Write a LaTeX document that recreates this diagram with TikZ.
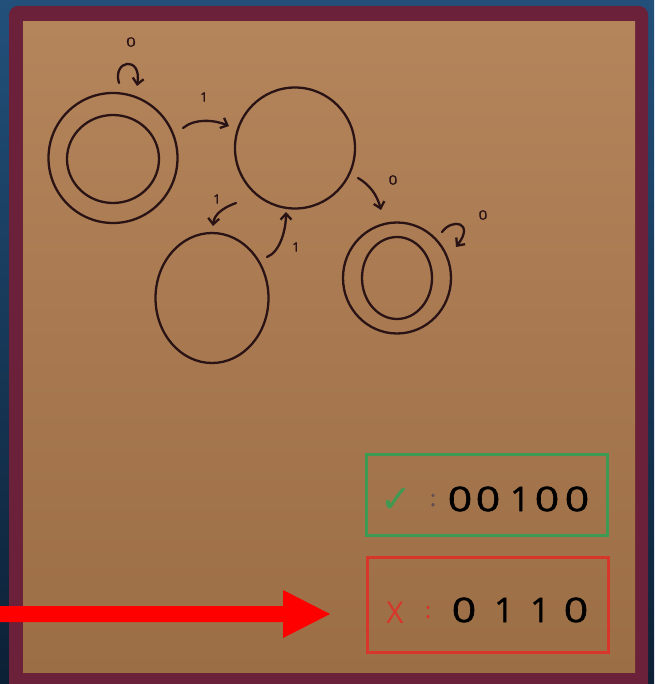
\documentclass[tikz,border=0pt]{standalone}
\usepackage{fontspec}
\setmainfont{Open Sans}
\newfontfamily\symfont{DejaVu Sans}
\newfontfamily\digitfont[FakeBold=1.3]{Open Sans}
\usetikzlibrary{shapes.geometric,arrows.meta}
\definecolor{bgtop}{HTML}{22507A}
\definecolor{bgbot}{HTML}{0C2035}
\definecolor{frame}{HTML}{6A2139}
\definecolor{tantop}{HTML}{B4845B}
\definecolor{tanbot}{HTML}{9C6E45}
\definecolor{ink}{HTML}{2A1315}
\definecolor{okgreen}{HTML}{3E9A52}
\definecolor{badred}{HTML}{D8352B}
\definecolor{pointer}{HTML}{FF0000}
\begin{document}
\begin{tikzpicture}[x=1pt,y=-1pt,
  state/.style={draw=ink, line width=2.3pt, ellipse, inner sep=0pt},
  arr/.style={draw=ink, line width=2.3pt, line cap=round, -{Straight Barb[length=6pt,width=11pt]}},
  lbl/.style={text=ink, font=\digitfont\fontsize{13}{13}\selectfont, inner sep=0pt},
  digit/.style={text=black, font=\digitfont\fontsize{34}{34}\selectfont, inner sep=0pt},
  zero/.style={digit, xscale=1.25, transform shape},
  answerbox/.style={line width=3pt, minimum width=241pt, inner sep=0pt}]
\useasboundingbox (0,0) rectangle (654,684);
\shade[top color=bgtop,bottom color=bgbot] (0,0) rectangle (654,684);
\fill[frame, rounded corners=9pt] (9,6) rectangle (648,700);
\shade[top color=tantop,bottom color=tanbot] (23,22) rectangle (635,672);

% states
\node[state, minimum width=129pt, minimum height=130pt] (Ao) at (113,158) {};
\node[state, minimum width=92pt, minimum height=88pt] (Ai) at (113,159) {};
\node[state, minimum width=120pt, minimum height=121pt] (B) at (295,148) {};
\node[state, minimum width=113pt, minimum height=130pt] (C) at (212,298) {};
\node[state, minimum width=108pt, minimum height=111pt] (Do) at (397,278) {};
\node[state, minimum width=70pt, minimum height=82pt] (Di) at (397,278) {};

% transitions
\draw[arr] ([shift={(6,-75)}]Ao.center) .. controls +(-7,-23) and +(5,-31) .. ([shift={(24,-72)}]Ao.center);
\node[lbl, xscale=1.3, transform shape] (la) at (131,42) {0};
\draw[arr] ([shift={(70,-30)}]Ao.center) .. controls +(12,-10) and +(-14,-6) .. ([shift={(-66,-22)}]B.center);
\node[lbl] (lab) at (204,97) {1};
\draw[arr] ([shift={(-59,55)}]B.center) .. controls +(-14,5) and +(1,-11) .. ([shift={(1,-72)}]C.center);
\node[lbl] (lbc) at (217,199) {1};
\draw[arr] ([shift={(55,-41)}]C.center) .. controls +(13,-5) and +(0,18) .. ([shift={(-9,64)}]B.center);
\node[lbl] (lcb) at (296,247) {1};
\draw[arr] ([shift={(63,30)}]B.center) .. controls +(12,7) and +(-4,-15) .. ([shift={(-16,-68)}]Do.center);
\node[lbl, xscale=1.2, transform shape] (lbd) at (393,180) {0};
\draw[arr] ([shift={(45,-46)}]Do.center) .. controls +(10,-14) and +(19,-25) .. ([shift={(59,-31)}]Do.center);
\node[lbl, xscale=1.2, transform shape] (ld) at (483,215) {0};

% answer boxes
\node[answerbox, draw=okgreen, minimum height=81pt] (ok) at (486.5,494.5) {};
\node[answerbox, draw=badred, minimum height=95pt] (bad) at (487.5,604.5) {};
\node[text=okgreen, font=\symfont\fontsize{38}{38}\selectfont, inner sep=0pt] (tick) at (396,501) {✓};
\node[text=ink!75, font=\digitfont\fontsize{22}{22}\selectfont, inner sep=0pt] (c1) at (433,500) {:};
\node[zero] (g1) at (460,499) {0};
\node[zero] (g2) at (488,499) {0};
\node[digit] (g3) at (520,499) {1};
\node[zero] (g4) at (547,499) {0};
\node[zero] (g5) at (577,499) {0};
\node[text=badred, font=\fontsize{30}{30}\selectfont, inner sep=0pt] (cross) at (395,613) {X};
\node[text=badred, font=\digitfont\fontsize{22}{22}\selectfont, inner sep=0pt] (c2) at (428,612) {:};
\node[zero] (r1) at (464,610) {0};
\node[digit] (r2) at (504,610) {1};
\node[digit] (r3) at (540,610) {1};
\node[zero] (r4) at (576,610) {0};

% pointer arrow
\coordinate (ptip) at (330,614);
\fill[pointer] (0,606) -- (283,606) -- (283,590) -- (ptip) -- (283,638) -- (283,622) -- (0,622) -- cycle;
\end{tikzpicture}
\end{document}
